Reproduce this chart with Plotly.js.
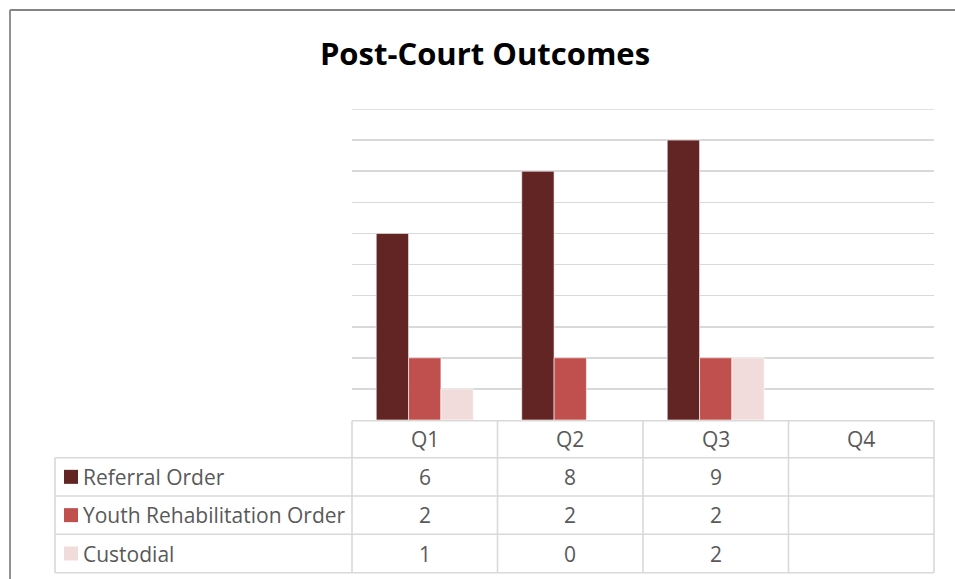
<!DOCTYPE html>
<html>
<head>
<meta charset="utf-8">
<script src="https://cdn.plot.ly/plotly-3.0.1.min.js"></script>
<style>
html,body{margin:0;padding:0;background:#fff;}
#chart{width:955px;height:579px;}
</style>
</head>
<body>
<div id="chart"></div>
<script>
var categories = ["Q1", "Q2", "Q3", "Q4"];
var seriesNames = ["Referral Order", "Youth Rehabilitation Order", "Custodial"];
var referralOrder = [6, 8, 9, null];
var youthRehabOrder = [2, 2, 2, null];
var custodial = [1, 0, 2, null];
var seriesColors = ["#632523", "#C0504D", "#F2DCDB"];
var titleText = "Post-Court Outcomes";
var yMax = 10;

var seriesValues = [referralOrder, youthRehabOrder, custodial];

var W = 955, H = 579;
var L = 352, R = 934, T = 109, B = 420;
var pw = R - L, ph = B - T;
function px(x) { return (x - L) / pw; }
function py(y) { return (B - y) / ph; }

var traces = seriesValues.map(function (vals, i) {
  return {
    type: "bar",
    name: seriesNames[i],
    x: categories,
    y: vals,
    marker: { color: seriesColors[i], line: { color: "#ffffff", width: 0.6 } },
    hoverinfo: "x+y+name"
  };
});

var gridColor = "#d9d9d9";
var rowLines = [420.7, 457.7, 496, 534.3, 572.7];
var colLines = [352, 497.5, 643, 788.5, 934];
var tableLeft = 55;
var shapes = [];
// top gridline (at range edge)
shapes.push({ type: "line", xref: "paper", yref: "y", x0: 0, x1: 1, y0: yMax, y1: yMax, line: { color: gridColor, width: 1.6 }, layer: "below" });
// outer frame
shapes.push({ type: "line", xref: "paper", yref: "paper", x0: px(10), x1: px(1000), y0: py(10), y1: py(10), line: { color: "#858585", width: 1.8 } });
shapes.push({ type: "line", xref: "paper", yref: "paper", x0: px(10), x1: px(10), y0: py(10), y1: py(700), line: { color: "#858585", width: 1.8 } });
// table horizontal lines
rowLines.forEach(function (y, i) {
  var x0 = i === 0 ? L : tableLeft;
  shapes.push({ type: "line", xref: "paper", yref: "paper", x0: px(x0), x1: px(R), y0: py(y), y1: py(y), line: { color: gridColor, width: 1.6 } });
});
// table vertical lines
colLines.forEach(function (x) {
  shapes.push({ type: "line", xref: "paper", yref: "paper", x0: px(x), x1: px(x), y0: py(rowLines[0]), y1: py(rowLines[4]), line: { color: gridColor, width: 1.6 } });
});
shapes.push({ type: "line", xref: "paper", yref: "paper", x0: px(tableLeft), x1: px(tableLeft), y0: py(rowLines[1]), y1: py(rowLines[4]), line: { color: gridColor, width: 1.6 } });

var textColor = "#595959";
var tfont = { family: "Open Sans, sans-serif", size: 21, color: textColor };
var annotations = [];
// header
categories.forEach(function (c) {
  annotations.push({ xref: "x", yref: "paper", x: c, y: py((rowLines[0] + rowLines[1]) / 2), text: c, showarrow: false, font: tfont, xanchor: "center", yanchor: "middle" });
});
// rows
seriesValues.forEach(function (vals, i) {
  var yc = (rowLines[i + 1] + rowLines[i + 2]) / 2;
  shapes.push({ type: "rect", xref: "paper", yref: "paper", x0: px(64), x1: px(78), y0: py(yc - 7), y1: py(yc + 7), fillcolor: seriesColors[i], line: { width: 0 } });
  annotations.push({ xref: "paper", yref: "paper", x: px(81), y: py(yc), text: seriesNames[i], showarrow: false, font: tfont, xanchor: "left", yanchor: "middle" });
  vals.forEach(function (v, j) {
    if (v === null) return;
    annotations.push({ xref: "x", yref: "paper", x: categories[j], y: py(yc), text: String(v), showarrow: false, font: tfont, xanchor: "center", yanchor: "middle" });
  });
});

var layout = {
  width: W, height: H,
  margin: { l: L, r: W - R, t: T, b: H - B, pad: 0 },
  paper_bgcolor: "#ffffff",
  plot_bgcolor: "#ffffff",
  title: { text: "<b>" + titleText + "</b>", x: 485 / W, xanchor: "center", y: 1 - 54 / H, yanchor: "middle", font: { family: "Open Sans, sans-serif", size: 31, color: "#000000" } },
  showlegend: false,
  barmode: "group",
  bargap: 0.333,
  bargroupgap: 0,
  xaxis: { type: "category", categoryarray: categories, showticklabels: false, showgrid: false, zeroline: false, showline: false, ticks: "", range: [-0.5, 3.5] },
  yaxis: { range: [0, yMax], dtick: 1, showticklabels: false, showgrid: true, gridcolor: gridColor, gridwidth: 1.6, zeroline: false, showline: false, ticks: "" },
  shapes: shapes,
  annotations: annotations
};

Plotly.newPlot("chart", traces, layout, { displayModeBar: false, staticPlot: true });
</script>
</body>
</html>
